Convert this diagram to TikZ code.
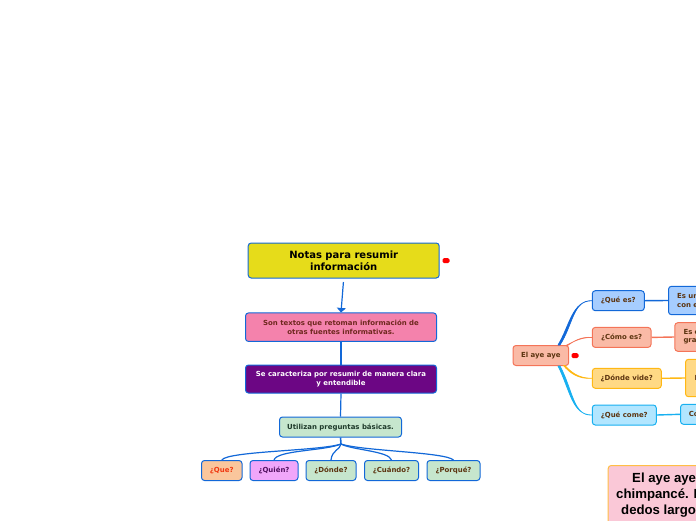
\documentclass[tikz,border=0pt]{standalone}
\usepackage{fontspec}
\setmainfont{DejaVu Sans}
\newfontfamily\arialfont{Liberation Sans}
\usetikzlibrary{arrows.meta}
\definecolor{lnblue}{HTML}{1268D8}
\definecolor{lnred}{HTML}{F47458}
\definecolor{lnyel}{HTML}{FFB814}
\definecolor{lnsky}{HTML}{18B0F0}
\definecolor{txbrown}{HTML}{5C3410}
\tikzset{
 x=1pt,y=1pt,
 boxbase/.style={draw=lnblue,line width=1pt,rounded corners=3pt,inner sep=0pt,align=center,font=\bfseries\fontsize{6.95}{8.4}\selectfont},
 greenbox/.style={boxbase,fill={rgb,255:red,198;green,230;blue,205},text=txbrown},
 link/.style={draw=lnblue,line width=1.2pt},
 bluebox/.style={boxbase,fill={rgb,255:red,166;green,205;blue,255},text=txbrown},
 redbox/.style={boxbase,draw=lnred,fill={rgb,255:red,250;green,186;blue,166},text=txbrown},
 yelbox/.style={boxbase,draw=lnyel,fill={rgb,255:red,255;green,217;blue,133},text=txbrown},
 skybox/.style={boxbase,draw=lnsky,fill={rgb,255:red,178;green,230;blue,255},text=txbrown},
 edgebox/.style={anchor=west,align=left},
 flag/.style={fill=red,draw=none,rounded corners=1.5pt,minimum width=7pt,minimum height=5pt,inner sep=0pt},
 notetext/.style={anchor=base west,inner sep=0pt,font=\arialfont\bfseries\fontsize{13.2}{15}\selectfont},
 taper/.style={line width=0.7pt,line join=round},
}
\begin{document}
\begin{tikzpicture}
\useasboundingbox (0,0) rectangle (696,-520);
\clip (0,0) rectangle (696,-520);
% left map
\node[boxbase,fill={rgb,255:red,230;green,220;blue,26},text=black,minimum width=191pt,minimum height=35pt,font=\bfseries\fontsize{10}{12.2}\selectfont] (notas) at (343.7,-260.5) {Notas para resumir\\información};
\node[boxbase,fill={rgb,255:red,244;green,130;blue,172},text={rgb,255:red,110;green,40;blue,30},minimum width=191pt,minimum height=28.5pt] (pink) at (341,-327.2) {Son textos que retoman información de\\otras fuentes informativas.};
\node[boxbase,fill={rgb,255:red,108;green,6;blue,132},text=white,minimum width=191pt,minimum height=28pt] (purple) at (341,-379) {Se caracteriza por resumir de manera clara\\y entendible};
\node[greenbox,minimum width=122pt,minimum height=20pt,text={rgb,255:red,30;green,58;blue,42}] (util) at (340.5,-427) {Utilizan preguntas básicas.};
\node[boxbase,fill={rgb,255:red,250;green,198;blue,156},text={rgb,255:red,240;green,56;blue,16},minimum width=40.5pt,minimum height=20pt] (que) at (221.75,-470.5) {¿Que?};
\node[boxbase,fill={rgb,255:red,240;green,166;blue,250},text={rgb,255:red,80;green,16;blue,95},minimum width=48pt,minimum height=20pt] (quien) at (274,-470.5) {¿Quién?};
\node[greenbox,minimum width=50pt,minimum height=20pt] (donde) at (331,-470.5) {¿Dónde?};
\node[greenbox,minimum width=54pt,minimum height=20pt] (cuando) at (391.5,-470.5) {¿Cuándo?};
\node[greenbox,minimum width=53pt,minimum height=20pt] (porque) at (453.5,-470.5) {¿Porqué?};
\node[flag] (flagA) at (446,-260.5) {};
\draw[link,shorten <=3.5pt,-{Triangle[length=4.5pt,width=9pt]}] (notas.south) -- (pink.north);
\draw[link] (pink.south) -- (purple.north);
\draw[link] (purple.south) -- (util.north);
\coordinate (hub) at (341,-444);
\draw[link,line width=1.6pt] (util.south) -- (hub);
\draw[link] (hub) .. controls (320,-451) and (228,-451) .. (que.north);
\draw[link] (hub) .. controls (325,-451) and (277,-450) .. (quien.north);
\draw[link] (hub) .. controls (340,-450) and (332,-450) .. (donde.north);
\draw[link] (hub) .. controls (352,-450) and (389,-451) .. (cuando.north);
\draw[link] (hub) .. controls (362,-451) and (445,-452) .. (porque.north);
% right map
\node[redbox,minimum width=55.7pt,minimum height=20pt] (aye) at (540.85,-355.5) {El aye aye};
\node[flag] (flagB) at (575,-355.5) {};
\node[bluebox,minimum width=52pt,minimum height=20pt] (quees) at (618.3,-300.7) {¿Qué es?};
\node[redbox,minimum width=58.7pt,minimum height=20pt] (comoes) at (621.65,-337.4) {¿Cómo es?};
\node[yelbox,minimum width=69pt,minimum height=20pt] (dondevive) at (626.8,-378.3) {¿Dónde vide?};
\node[skybox,minimum width=64pt,minimum height=20pt] (quecome) at (624.3,-415) {¿Qué come?};
\node[bluebox,edgebox,inner xsep=8.7pt,text width=60pt,minimum height=28.4pt] (esun) at (668,-300.5) {Es un\\con e};
\node[redbox,edgebox,inner xsep=8.7pt,text width=60pt,minimum height=28.6pt] (esc) at (674.3,-337) {Es c\\gra};
\node[yelbox,edgebox,inner xsep=9.2pt,text width=60pt,minimum height=37.4pt] (viv) at (685,-378) {E};
\node[skybox,edgebox,inner xsep=8.3pt,text width=60pt,minimum height=20pt] (co) at (680,-414.3) {Co};
\draw[link,line width=1.4pt] (quees.east) -- (esun.west);
\draw[link,line width=1.4pt,draw=lnred] (comoes.east) -- (esc.west);
\draw[link,line width=1.4pt,draw=lnyel] (dondevive.east) -- (viv.west);
\draw[link,line width=1.4pt,draw=lnsky] (quecome.east) -- (co.west);
\coordinate (ayeA) at (558,-345);
\coordinate (ayeB) at (566,-345.5);
\coordinate (ayeC) at (565,-365.5);
\coordinate (ayeD) at (558,-366);
\filldraw[taper,fill=lnblue,draw=lnblue] (ayeA) .. controls (570,-325) and (572,-301) .. (quees.west) .. controls (573,-300) and (573,-325) .. ([xshift=2pt]ayeA) -- cycle;
\filldraw[taper,fill=lnred,draw=lnred] (ayeB) .. controls (573,-342) and (580,-337.4) .. (comoes.west) .. controls (581,-336.6) and (574,-341) .. ([xshift=1.6pt]ayeB) -- cycle;
\filldraw[taper,fill=lnyel,draw=lnyel] (ayeC) .. controls (571,-372) and (578,-378.3) .. (dondevive.west) .. controls (578,-379.2) and (570,-373) .. ([xshift=-1.6pt]ayeC) -- cycle;
\filldraw[taper,fill=lnsky,draw=lnsky] (ayeD) .. controls (570,-390) and (572,-415) .. (quecome.west) .. controls (573,-416) and (573,-390) .. ([xshift=2pt]ayeD) -- cycle;
% bottom note
\node[boxbase,draw={rgb,255:red,255;green,190;blue,70},fill={rgb,255:red,250;green,200;blue,215},minimum width=120pt,minimum height=70pt,anchor=north west,text=black] (note) at (607.7,-465) {};
\node[notetext] (l1) at (632,-482) {El aye aye};
\node[notetext] (l2) at (616,-498) {chimpancé. L};
\node[notetext] (l3) at (621,-514) {dedos largo};
\end{tikzpicture}
\end{document}
